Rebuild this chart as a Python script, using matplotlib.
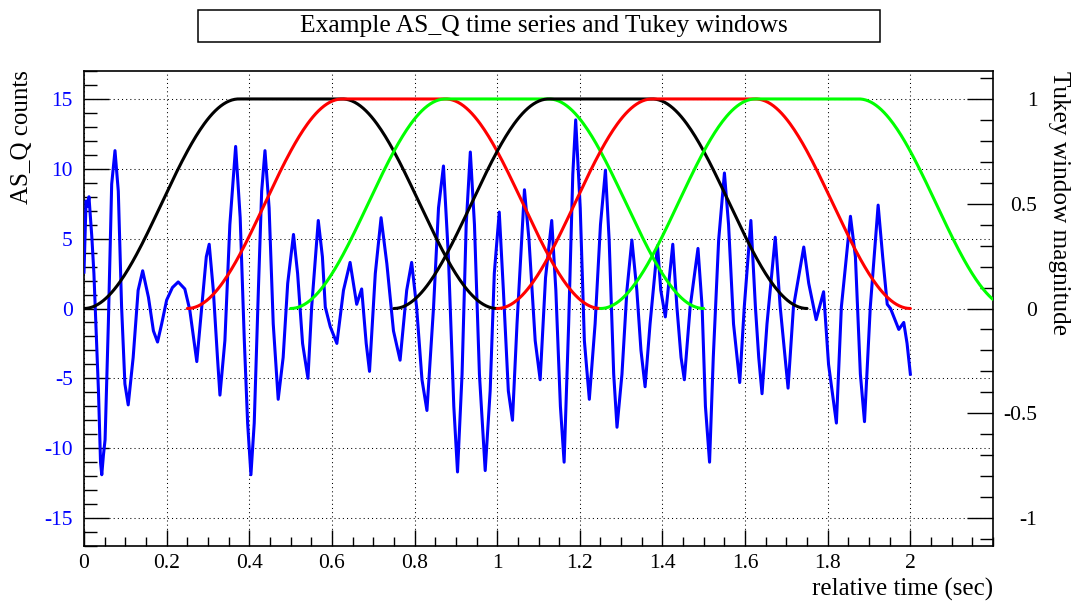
import numpy as np
import matplotlib
matplotlib.use("Agg")
import matplotlib.pyplot as plt
from matplotlib.patches import Rectangle
from matplotlib.ticker import FixedLocator, MultipleLocator

plt.rcParams['font.family'] = ['Liberation Serif', 'DejaVu Serif']

# AS_Q time series (time in sec, counts)
tiempo = [
    0.000, 0.005, 0.009, 0.012, 0.019, 0.024, 0.035, 0.040, 0.043, 0.047,
    0.051, 0.059, 0.067, 0.075, 0.083, 0.091, 0.099, 0.107, 0.119, 0.131,
    0.142, 0.156, 0.168, 0.178, 0.188, 0.200, 0.214, 0.228, 0.244, 0.256,
    0.273, 0.285, 0.296, 0.303, 0.313, 0.323, 0.329, 0.341, 0.353, 0.367,
    0.378, 0.388, 0.396, 0.404, 0.412, 0.422, 0.430, 0.438, 0.448, 0.458,
    0.470, 0.482, 0.493, 0.507, 0.517, 0.529, 0.542, 0.551, 0.567, 0.577,
    0.584, 0.596, 0.612, 0.628, 0.644, 0.660, 0.672, 0.683, 0.691, 0.705,
    0.719, 0.733, 0.749, 0.765, 0.781, 0.793, 0.805, 0.818, 0.830, 0.846,
    0.858, 0.870, 0.882, 0.895, 0.904, 0.915, 0.925, 0.935, 0.945, 0.957,
    0.971, 0.983, 0.993, 1.005, 1.015, 1.027, 1.037, 1.048, 1.066, 1.077,
    1.092, 1.104, 1.117, 1.132, 1.142, 1.153, 1.162, 1.173, 1.183, 1.190,
    1.201, 1.211, 1.223, 1.237, 1.250, 1.262, 1.271, 1.282, 1.290, 1.302,
    1.314, 1.326, 1.338, 1.348, 1.358, 1.370, 1.388, 1.396, 1.407, 1.425,
    1.435, 1.445, 1.453, 1.467, 1.486, 1.496, 1.504, 1.514, 1.523, 1.536,
    1.550, 1.560, 1.572, 1.587, 1.598, 1.614, 1.625, 1.633, 1.641, 1.653,
    1.673, 1.685, 1.704, 1.717, 1.742, 1.754, 1.772, 1.790, 1.802, 1.821,
    1.833, 1.855, 1.867, 1.879, 1.889, 1.903, 1.922, 1.933, 1.944, 1.952,
    1.960, 1.972, 1.984, 1.992, 2.000,
]
cuentas = [
    2.6, 7.7, 7.3, 8.0, 5.1, 2.5, -5.9, -11.0, -11.9, -10.5,
    -9.4, -1.0, 8.9, 11.3, 8.4, 0.1, -5.4, -6.9, -3.5, 1.3,
    2.7, 0.8, -1.6, -2.4, -1.1, 0.6, 1.5, 1.9, 1.4, -0.1,
    -3.8, 0.1, 3.7, 4.6, 1.3, -3.5, -6.2, -2.3, 6.0, 11.6,
    6.5, -2.3, -8.2, -11.9, -8.2, 1.3, 8.4, 11.3, 7.2, -1.1,
    -6.5, -3.5, 1.8, 5.3, 2.5, -2.5, -5.0, 0.1, 6.3, 3.7,
    0.1, -1.3, -2.5, 1.3, 3.3, 0.3, 1.4, -2.5, -4.5, 2.5,
    6.5, 3.2, -1.6, -3.7, 1.3, 3.3, 0.1, -5.1, -7.3, 0.1,
    7.2, 10.2, 3.7, -7.0, -11.7, -4.7, 6.0, 11.2, 6.0, -4.7,
    -11.6, -5.9, 2.5, 6.9, 1.3, -5.9, -8.0, -1.1, 8.5, 4.9,
    -2.3, -5.1, 2.2, 6.3, 1.3, -7.0, -11.0, -1.1, 9.6, 13.5,
    7.2, -2.3, -6.5, -1.1, 6.0, 9.9, 4.9, -4.7, -8.5, -4.7,
    1.3, 4.9, 1.3, -3.0, -5.6, -1.1, 4.5, 1.3, -0.6, 4.6,
    0.1, -3.5, -5.1, 0.1, 4.3, 0.1, -7.0, -11.0, -3.5, 4.9,
    9.7, 6.0, -1.1, -5.3, 0.1, 6.3, 0.1, -3.5, -6.1, -1.1,
    5.1, 0.1, -5.7, 0.1, 4.4, 1.8, -0.8, 1.2, -4.0, -8.2,
    0.1, 6.6, 3.7, -4.7, -8.1, 0.1, 7.4, 3.7, 0.3, 0.0,
    -0.6, -1.5, -1.0, -2.5, -4.7,
]

# Tukey windows: start time, colour; each 1 s long with a 0.75 taper
inicios_ventana = [0.0, 0.25, 0.5, 0.75, 1.0, 1.25]
colores_ventana = ['black', 'red', '#00ff00', 'black', 'red', '#00ff00']
largo_ventana = 1.0
alfa_tukey = 0.75

x_ticks = [0, 0.2, 0.4, 0.6, 0.8, 1.0, 1.2, 1.4, 1.6, 1.8, 2.0]
x_labels = ['0', '0.2', '0.4', '0.6', '0.8', '1', '1.2', '1.4', '1.6', '1.8', '2']
y_ticks = [-15, -10, -5, 0, 5, 10, 15]
y2_ticks = [-1, -0.5, 0, 0.5, 1]
y2_labels = ['-1', '-0.5', '0', '0.5', '1']


def ventana_tukey(t, inicio):
    u = (t - inicio) / largo_ventana
    borde = alfa_tukey / 2
    w = np.ones_like(u)
    sube = u < borde
    baja = u > 1 - borde
    w[sube] = 0.5 * (1 - np.cos(np.pi * u[sube] / borde))
    w[baja] = 0.5 * (1 - np.cos(np.pi * (1 - u[baja]) / borde))
    return w


fig = plt.figure(figsize=(10.74, 6.04), dpi=100)
ax = fig.add_axes([84 / 1074, 1 - 546 / 604, 909 / 1074, 475 / 604])
ax2 = ax.twinx()

ax.plot(tiempo, cuentas, color='#0000ff', lw=2.2, zorder=3)

for inicio, color in zip(inicios_ventana, colores_ventana):
    t = np.linspace(inicio, min(inicio + largo_ventana, 2.2), 300)
    ax2.plot(t, ventana_tukey(t, inicio), color=color, lw=2.2, solid_capstyle='round')

ax.set_xlim(0, 2.2)
ax.set_ylim(-17, 17)
ax2.set_ylim(-17 / 15, 17 / 15)

ax.xaxis.set_major_locator(FixedLocator(x_ticks))
ax.set_xticklabels(x_labels)
ax.xaxis.set_minor_locator(MultipleLocator(0.05))
ax.yaxis.set_major_locator(FixedLocator(y_ticks))
ax.set_yticklabels([str(v) for v in y_ticks])
ax.yaxis.set_minor_locator(MultipleLocator(1))
ax2.yaxis.set_major_locator(FixedLocator(y2_ticks))
ax2.set_yticklabels(y2_labels)
ax2.yaxis.set_minor_locator(MultipleLocator(0.1))

ax.tick_params(axis='x', which='major', direction='in', length=11.5, width=1,
               labelsize=15.5, pad=6, top=False)
ax.tick_params(axis='x', which='minor', direction='in', length=6.5, width=1, top=False)
ax.tick_params(axis='y', which='major', direction='in', length=18, width=1,
               labelsize=15.5, labelcolor='#0000ff', pad=8, right=False)
ax.tick_params(axis='y', which='minor', direction='in', length=9.5, width=1, right=False)
ax2.tick_params(axis='y', which='major', direction='in', length=19, width=1,
                labelsize=15.5, pad=32, left=False)
ax2.tick_params(axis='y', which='minor', direction='in', length=9.5, width=1, left=False)
for lab in ax2.get_yticklabels():
    lab.set_horizontalalignment('right')

ax.grid(True, which='major', color='black', lw=0.75, linestyle=(0, (1, 3)))
for sp in ax.spines.values():
    sp.set_linewidth(1.2)
for sp in ax2.spines.values():
    sp.set_visible(False)

fig.text(22 / 1074, 1 - 70 / 604, 'AS_Q counts', rotation=90, ha='center', va='top', fontsize=18)
fig.text(1059 / 1074, 1 - 71 / 604, 'Tukey window magnitude', rotation=270, ha='center', va='top',
         fontsize=18.2)
fig.text(993 / 1074, 1 - 589 / 604, 'relative time (sec)', ha='right', va='center', fontsize=18)

fig.patches.append(Rectangle((198 / 1074, 1 - 42 / 604), 682 / 1074, 32 / 604,
                             transform=fig.transFigure, facecolor='white', edgecolor='black', lw=1.1))
fig.text(544 / 1074, 1 - 26 / 604, 'Example AS_Q time series and Tukey windows',
         ha='center', va='center', fontsize=18.4)

fig.savefig('out.png', dpi=100)
